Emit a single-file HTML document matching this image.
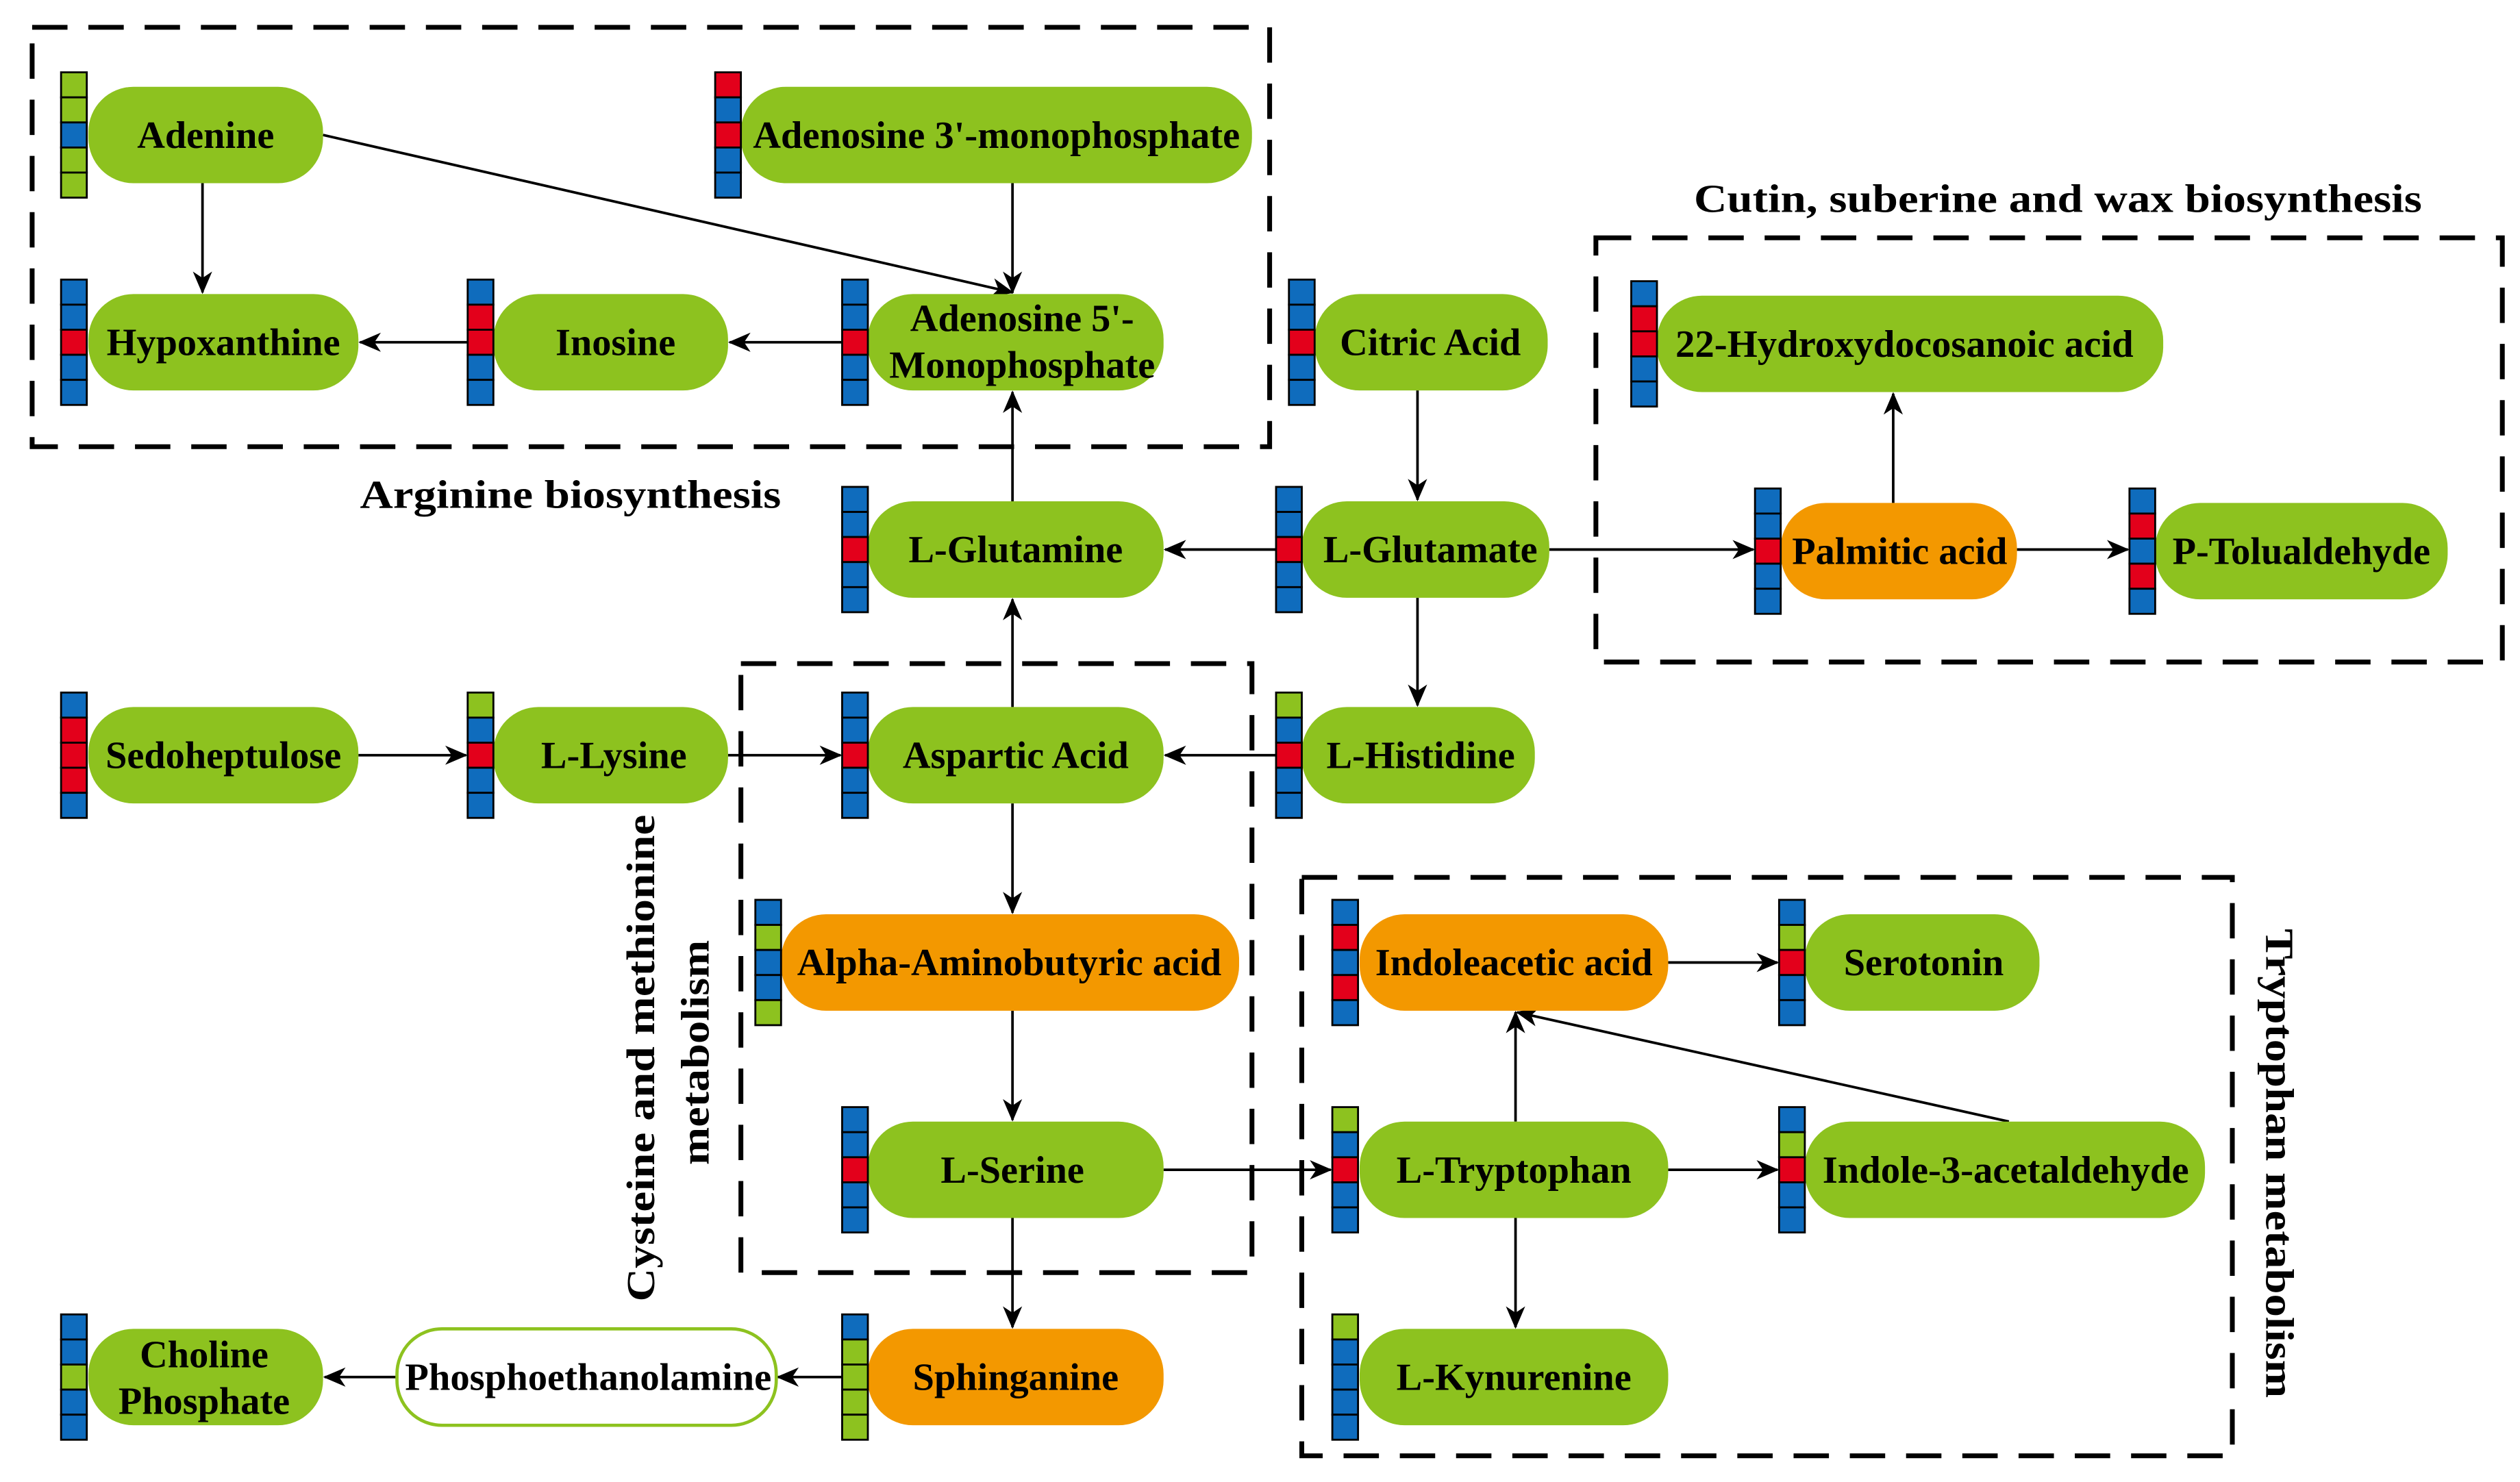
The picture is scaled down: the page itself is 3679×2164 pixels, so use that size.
<!DOCTYPE html>
<html><head><meta charset="utf-8"><style>
html,body{margin:0;padding:0;background:#fff;}
svg{display:block;}
text{font-family:"Liberation Serif","Times New Roman",serif;font-weight:bold;}
</style></head><body>
<svg width="3679" height="2164" viewBox="0 0 1568 922.3" xmlns="http://www.w3.org/2000/svg" font-family="'Liberation Serif', serif" font-weight="bold">
<defs>
<marker id="a" markerUnits="userSpaceOnUse" markerWidth="14" markerHeight="14" viewBox="0 0 14 12" refX="13" refY="6" orient="auto">
<path d="M0,0 L14,6 L0,12 L4,6 z" fill="#000"/>
</marker>
</defs>
<g fill="none" stroke="#000" stroke-width="3" stroke-dasharray="22,13">
<rect x="20" y="17" width="770" height="261"/>
<rect x="993" y="148" width="564" height="264"/>
<rect x="461" y="413" width="318" height="379"/>
<rect x="810" y="546" width="579" height="360"/>
</g>
<g font-size="25" fill="#000">
<text x="224" y="316" textLength="262" lengthAdjust="spacingAndGlyphs">Arginine biosynthesis</text>
<text x="1054" y="132" textLength="453" lengthAdjust="spacingAndGlyphs">Cutin, suberine and wax biosynthesis</text>
<text transform="translate(407,810) rotate(-90)" textLength="303" lengthAdjust="spacingAndGlyphs">Cysteine and methionine</text>
<text transform="translate(441,725) rotate(-90)" textLength="140" lengthAdjust="spacingAndGlyphs">metabolism</text>
<text transform="translate(1410,578) rotate(90)" textLength="292" lengthAdjust="spacingAndGlyphs">Tryptophan metabolism</text>
</g>
<g stroke="#000" stroke-width="1.6" fill="none" marker-end="url(#a)">
<line x1="126" y1="114" x2="126" y2="182"/>
<line x1="201" y1="84" x2="630" y2="182"/>
<line x1="630" y1="114" x2="630" y2="182"/>
<line x1="291" y1="213" x2="224" y2="213"/>
<line x1="524" y1="213" x2="454" y2="213"/>
<line x1="630" y1="312" x2="630" y2="244"/>
<line x1="882" y1="243" x2="882" y2="311"/>
<line x1="794" y1="342" x2="725" y2="342"/>
<line x1="964" y1="342" x2="1091" y2="342"/>
<line x1="1178" y1="313" x2="1178" y2="245"/>
<line x1="1255" y1="342" x2="1324" y2="342"/>
<line x1="882" y1="372" x2="882" y2="439"/>
<line x1="630" y1="440" x2="630" y2="373"/>
<line x1="223" y1="470" x2="290" y2="470"/>
<line x1="453" y1="470" x2="523" y2="470"/>
<line x1="794" y1="470" x2="725" y2="470"/>
<line x1="630" y1="500" x2="630" y2="568"/>
<line x1="630" y1="629" x2="630" y2="697"/>
<line x1="724" y1="728" x2="828" y2="728"/>
<line x1="630" y1="758" x2="630" y2="826"/>
<line x1="524" y1="857" x2="484" y2="857"/>
<line x1="247" y1="857" x2="202" y2="857"/>
<line x1="1038" y1="599" x2="1106" y2="599"/>
<line x1="943" y1="698" x2="943" y2="630"/>
<line x1="1250" y1="698" x2="944" y2="630"/>
<line x1="1038" y1="728" x2="1106" y2="728"/>
<line x1="943" y1="758" x2="943" y2="826"/>
</g>
<g font-size="24" fill="#000" text-anchor="middle">
<g fill="#8dc21f">
<rect x="55" y="54" width="146" height="60" rx="28"/>
<rect x="461" y="54" width="318" height="60" rx="28"/>
<rect x="55" y="183" width="168" height="60" rx="28"/>
<rect x="307" y="183" width="146" height="60" rx="28"/>
<rect x="540" y="183" width="184" height="60" rx="28"/>
<rect x="818" y="183" width="145" height="60" rx="28"/>
<rect x="1031" y="184" width="315" height="60" rx="28"/>
<rect x="540" y="312" width="184" height="60" rx="28"/>
<rect x="810" y="312" width="154" height="60" rx="28"/>
<rect x="1341" y="313" width="182" height="60" rx="28"/>
<rect x="55" y="440" width="168" height="60" rx="28"/>
<rect x="307" y="440" width="146" height="60" rx="28"/>
<rect x="540" y="440" width="184" height="60" rx="28"/>
<rect x="810" y="440" width="145" height="60" rx="28"/>
<rect x="1123" y="569" width="146" height="60" rx="28"/>
<rect x="540" y="698" width="184" height="60" rx="28"/>
<rect x="846" y="698" width="192" height="60" rx="28"/>
<rect x="1123" y="698" width="249" height="60" rx="28"/>
<rect x="55" y="827" width="146" height="60" rx="28"/>
<rect x="846" y="827" width="192" height="60" rx="28"/>
</g>
<g fill="#f39800">
<rect x="1108" y="313" width="147" height="60" rx="28"/>
<rect x="486" y="569" width="285" height="60" rx="28"/>
<rect x="846" y="569" width="192" height="60" rx="28"/>
<rect x="540" y="827" width="184" height="60" rx="28"/>
</g>
<rect x="247" y="827" width="236" height="60" rx="28" fill="#fff" stroke="#8dc21f" stroke-width="2"/>
<text x="128" y="92">Adenine</text>
<text x="620" y="92" textLength="303" lengthAdjust="spacingAndGlyphs">Adenosine 3'-monophosphate</text>
<text x="139" y="221">Hypoxanthine</text>
<text x="383" y="221">Inosine</text>
<text x="636" y="206">Adenosine 5'-</text>
<text x="636" y="235">Monophosphate</text>
<text x="890" y="221">Citric Acid</text>
<text x="1185" y="222" textLength="285" lengthAdjust="spacingAndGlyphs">22-Hydroxydocosanoic acid</text>
<text x="632" y="350">L-Glutamine</text>
<text x="890" y="350">L-Glutamate</text>
<text x="1182" y="351">Palmitic acid</text>
<text x="1432" y="351">P-Tolualdehyde</text>
<text x="139" y="478">Sedoheptulose</text>
<text x="382" y="478">L-Lysine</text>
<text x="632" y="478">Aspartic Acid</text>
<text x="884" y="478">L-Histidine</text>
<text x="628" y="607" textLength="264" lengthAdjust="spacingAndGlyphs">Alpha-Aminobutyric acid</text>
<text x="942" y="607">Indoleacetic acid</text>
<text x="1197" y="607">Serotonin</text>
<text x="630" y="736">L-Serine</text>
<text x="942" y="736">L-Tryptophan</text>
<text x="1248" y="736" textLength="228" lengthAdjust="spacingAndGlyphs">Indole-3-acetaldehyde</text>
<text x="127" y="851">Choline</text>
<text x="127" y="880">Phosphate</text>
<text x="366" y="865" textLength="228" lengthAdjust="spacingAndGlyphs">Phosphoethanolamine</text>
<text x="632" y="865">Sphinganine</text>
<text x="942" y="865">L-Kynurenine</text>
</g>
<g stroke="#000" stroke-width="1.2" id="bars"></g>
<script>
(function(){
var m={B:"#0f6cbd",R:"#e3001b",G:"#8dc21f"};
var bars=[
[38,84,"GGBGG"],[445,84,"RBRBB"],[38,213,"BBRBB"],[291,213,"BRRBB"],[524,213,"BBRBB"],
[802,213,"BBRBB"],[1015,214,"BRRBB"],[524,342,"BBRBB"],[794,342,"BBRBB"],[1092,343,"BBRBB"],
[1325,343,"BRBRB"],[38,470,"BRRRB"],[291,470,"GBRBB"],[524,470,"BBRBB"],[794,470,"GBRBB"],
[470,599,"BGBBG"],[829,599,"BRBRB"],[1107,599,"BGRBB"],[524,728,"BBRBB"],[829,728,"GBRBB"],
[1107,728,"BGRBB"],[38,857,"BBGBB"],[524,857,"BGGGG"],[829,857,"GBBBB"]];
var g=document.getElementById("bars"),ns="http://www.w3.org/2000/svg";
bars.forEach(function(b){
 var h=15.6,y0=b[1]-h*2.5;
 for(var i=0;i<5;i++){
  var r=document.createElementNS(ns,"rect");
  r.setAttribute("x",b[0]);r.setAttribute("y",y0+i*h);
  r.setAttribute("width",16);r.setAttribute("height",h);
  r.setAttribute("fill",m[b[2][i]]);g.appendChild(r);
 }
});
})();
</script>
</svg>
</body></html>
